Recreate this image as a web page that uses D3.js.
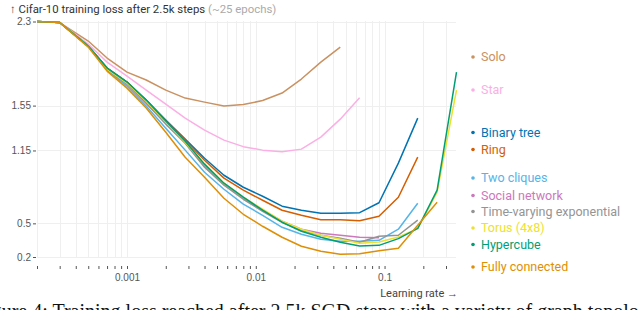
<!DOCTYPE html>
<html>
<head>
<meta charset="utf-8">
<script src="https://cdn.jsdelivr.net/npm/d3@7"></script>
<style>
  body { margin: 0; background: #fff; }
  svg { font-family: Roboto, "Open Sans", sans-serif; }
</style>
</head>
<body>
<svg width="640" height="310"></svg>
<script>
// learning rates tried (half-octave grid above 5e-4)
var learningRates = [0.0002, 0.0003, 0.0005, 0.0007, 0.001, 0.00141, 0.002, 0.00283, 0.004, 0.00566,
  0.008, 0.0113, 0.016, 0.0226, 0.032, 0.0453, 0.064, 0.0905, 0.128, 0.181, 0.256, 0.362];

var yTickValues = [0.2, 0.5, 1.15, 1.55, 2.3];
var xTickLabels = [0.001, 0.01, 0.1];

// training loss per topology, one value per learning rate (shorter series diverged)
var soloLoss = [2.30, 2.29, 2.126, 1.974, 1.849, 1.778, 1.688, 1.617, 1.581, 1.546, 1.559, 1.595, 1.662, 1.787, 1.938, 2.072];
var starLoss = [2.296, 2.291, 2.099, 1.938, 1.813, 1.688, 1.563, 1.438, 1.331, 1.242, 1.184, 1.153, 1.139, 1.162, 1.269, 1.429, 1.621];
var binaryTreeLoss = [2.30, 2.291, 2.081, 1.885, 1.760, 1.599, 1.421, 1.251, 1.081, 0.929, 0.822, 0.742, 0.653, 0.617, 0.590, 0.590, 0.595, 0.684, 1.037, 1.438];
var ringLoss = [2.30, 2.291, 2.081, 1.885, 1.760, 1.590, 1.412, 1.242, 1.063, 0.903, 0.796, 0.706, 0.617, 0.572, 0.532, 0.532, 0.523, 0.563, 0.733, 1.090];
var twoCliquesLoss = [2.30, 2.291, 2.081, 1.867, 1.724, 1.546, 1.349, 1.153, 0.956, 0.804, 0.671, 0.572, 0.465, 0.403, 0.358, 0.340, 0.340, 0.349, 0.448, 0.679];
var socialNetworkLoss = [2.30, 2.291, 2.081, 1.876, 1.742, 1.572, 1.394, 1.224, 1.010, 0.849, 0.724, 0.617, 0.519, 0.448, 0.412, 0.394, 0.376, 0.372];
var timeVaryingLoss = [2.30, 2.291, 2.081, 1.876, 1.742, 1.572, 1.385, 1.215, 1.001, 0.840, 0.715, 0.608, 0.510, 0.439, 0.394, 0.367, 0.331, 0.385, 0.394, 0.528];
var torusLoss = [2.30, 2.291, 2.081, 1.876, 1.751, 1.590, 1.403, 1.224, 1.028, 0.858, 0.733, 0.626, 0.519, 0.448, 0.394, 0.358, 0.322, 0.333, 0.378, 0.453, 0.778, 1.689];
var hypercubeLoss = [2.30, 2.291, 2.081, 1.885, 1.760, 1.599, 1.412, 1.233, 1.028, 0.858, 0.733, 0.617, 0.510, 0.430, 0.376, 0.331, 0.298, 0.304, 0.364, 0.456, 0.796, 1.849];
var fullyConnectedLoss = [2.30, 2.291, 2.072, 1.858, 1.706, 1.528, 1.313, 1.090, 0.912, 0.724, 0.581, 0.474, 0.376, 0.296, 0.251, 0.224, 0.229, 0.255, 0.278, 0.483, 0.688];

var seriesNames = ["Solo", "Star", "Binary tree", "Ring", "Two cliques", "Social network",
  "Time-varying exponential", "Torus (4x8)", "Hypercube", "Fully connected"];
var seriesValues = [soloLoss, starLoss, binaryTreeLoss, ringLoss, twoCliquesLoss, socialNetworkLoss,
  timeVaryingLoss, torusLoss, hypercubeLoss, fullyConnectedLoss];
var seriesColors = ["#CA9161", "#FBAFE4", "#0173B2", "#D55E00", "#56B4E9", "#CC78BC",
  "#949494", "#ECE133", "#029E73", "#DE8F05"];

// label layout (pixel rows of the legend on the right)
var legendRows = [57, 90, 132.5, 149.5, 178, 195.5, 211.5, 228, 244.5, 267];

var svg = d3.select("svg");

var x = d3.scaleLog().domain([0.0002, 0.3]).range([37, 446]);
var y = d3.scaleLinear().domain([0.2, 2.3]).range([257, 21.5]);

var grid = svg.append("g").attr("stroke", "#efefef").attr("stroke-width", 1);

grid.selectAll("line.v")
  .data(x.ticks())
  .enter().append("line")
    .attr("class", "v")
    .attr("x1", function(d) { return Math.round(x(d)) + 0.5; })
    .attr("x2", function(d) { return Math.round(x(d)) + 0.5; })
    .attr("y1", 21)
    .attr("y2", 258);

grid.selectAll("line.h")
  .data(yTickValues)
  .enter().append("line")
    .attr("class", "h")
    .attr("x1", 37)
    .attr("x2", 456)
    .attr("y1", function(d) { return Math.round(y(d)) + 0.5; })
    .attr("y2", function(d) { return Math.round(y(d)) + 0.5; });

// y axis
var yAxis = svg.append("g")
  .attr("transform", "translate(37,0)")
  .call(d3.axisLeft(y).tickValues(yTickValues).tickSize(3).tickPadding(3).tickFormat(d3.format("")));
yAxis.select(".domain").remove();
yAxis.selectAll("line").attr("stroke", "#555").attr("transform", "translate(-1,0)");
yAxis.selectAll("text").attr("fill", "#555").style("font-size", "10px");

// x axis
var xAxis = svg.append("g")
  .attr("transform", "translate(0,266)")
  .call(d3.axisBottom(x).tickSize(3).tickPadding(5)
    .tickFormat(function(d) { return xTickLabels.indexOf(d) >= 0 ? d3.format("")(d) : ""; }));
xAxis.select(".domain").remove();
xAxis.selectAll("line").attr("stroke", "#555");
xAxis.selectAll("text").attr("fill", "#555").style("font-size", "10px");

svg.append("text")
  .attr("x", 458)
  .attr("y", 297)
  .attr("text-anchor", "end")
  .attr("fill", "#444")
  .style("font-size", "11px")
  .text("Learning rate \u2192");

// title
var title = svg.append("text")
  .attr("x", 10)
  .attr("y", 13)
  .style("font-size", "11.4px")
  .attr("fill", "#333");
title.append("tspan").text("\u2191 Cifar-10 training loss after 2.5k steps ");
title.append("tspan").attr("fill", "#aaa").text("(~25 epochs)");

// lines
var line = d3.line()
  .x(function(d, i) { return x(learningRates[i]); })
  .y(function(d) { return y(d); });

svg.append("g")
  .selectAll("path")
  .data(seriesValues)
  .enter().append("path")
    .attr("fill", "none")
    .attr("stroke", function(d, i) { return seriesColors[i]; })
    .attr("stroke-width", 1.5)
    .attr("stroke-linejoin", "round")
    .attr("d", line);

// legend
var legend = svg.append("g")
  .selectAll("g")
  .data(seriesNames)
  .enter().append("g")
    .attr("transform", function(d, i) { return "translate(473," + legendRows[i] + ")"; });

legend.append("circle")
  .attr("r", 1.8)
  .attr("fill", function(d, i) { return seriesColors[i]; });

legend.append("text")
  .attr("x", 8)
  .attr("dy", "0.35em")
  .attr("fill", function(d, i) { return seriesColors[i]; })
  .style("font-size", "12.5px")
  .text(function(d) { return d; });

// figure caption, cut by the bottom edge
svg.append("text")
  .attr("x", -25)
  .attr("y", 318)
  .attr("fill", "#111")
  .style("font-family", "'Liberation Serif', 'DejaVu Serif', serif")
  .style("font-size", "20px")
  .text("Figure 4: Training loss reached after 2.5k SGD steps with a variety of graph topologies");
</script>
</body>
</html>
